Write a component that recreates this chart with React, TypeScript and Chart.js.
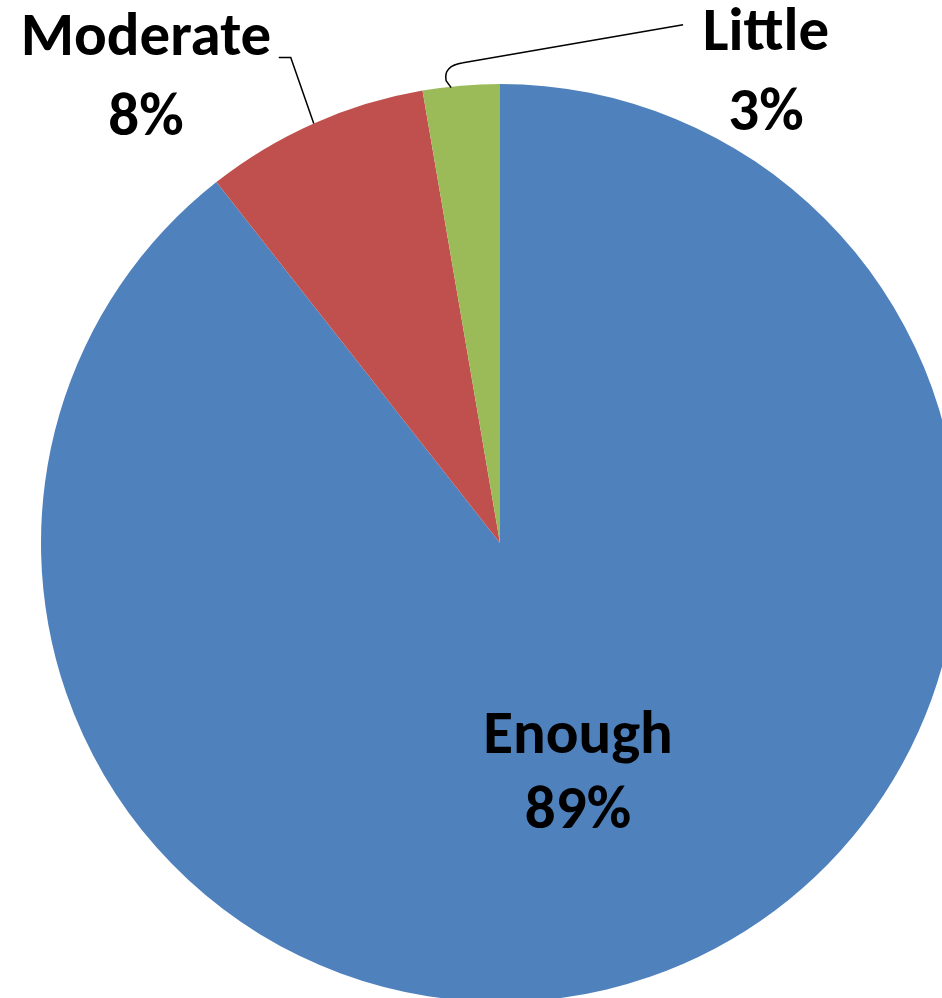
import React, { useEffect, useRef } from "react";
import { Chart, registerables } from "chart.js";

Chart.register(...registerables);

const categories = ["Enough", "Moderate", "Little"];
const values = [89.4, 7.9, 2.7];
const colors = ["#4F81BD", "#C0504D", "#9BBB59"];

// label placement (offset of first baseline from pie centre, px) and line gap
const labelOffsets = [
  { dx: 78, dy: 210, gap: 75, leader: null as null | number[][] },
  { dx: -354, dy: -488, gap: 80, leader: [[0, 0], [-23, -66], [-35, -66]] },
  { dx: 266, dy: -493, gap: 80, leader: null },
];

const FONT = "bold 61px Carlito, Calibri, Lato, sans-serif";

const labelPlugin = {
  id: "pieLabels",
  afterDraw(chart: any) {
    const ctx = chart.ctx;
    const meta = chart.getDatasetMeta(0);
    const total = values.reduce((a, b) => a + b, 0);
    ctx.save();
    meta.data.forEach((arc: any, i: number) => {
      const { x: cx, y: cy, outerRadius, startAngle, endAngle } = arc.getProps(
        ["x", "y", "outerRadius", "startAngle", "endAngle"],
        true
      );
      const mid = (startAngle + endAngle) / 2;
      const ax = cx + Math.cos(mid) * outerRadius;
      const ay = cy + Math.sin(mid) * outerRadius;
      ctx.strokeStyle = "#000";
      ctx.lineWidth = 1.5;
      if (i === 1) {
        const pts = labelOffsets[1].leader!;
        ctx.beginPath();
        ctx.moveTo(ax + pts[0][0], ay + pts[0][1]);
        for (let k = 1; k < pts.length; k++) ctx.lineTo(ax + pts[k][0], ay + pts[k][1]);
        ctx.stroke();
      }
      if (i === 2) {
        ctx.beginPath();
        ctx.moveTo(ax - 10, ay + 2);
        ctx.lineTo(ax - 15, ay - 5);
        ctx.quadraticCurveTo(ax - 18, ay - 20, ax + 2, ay - 23);
        ctx.lineTo(ax + 222, ay - 61);
        ctx.stroke();
      }
      const lo = labelOffsets[i];
      const pct = Math.round((values[i] / total) * 100) + "%";
      ctx.fillStyle = "#000";
      ctx.font = FONT;
      ctx.textAlign = "center";
      ctx.textBaseline = "alphabetic";
      ctx.fillText(categories[i], cx + lo.dx, cy + lo.dy);
      ctx.fillText(pct, cx + lo.dx, cy + lo.dy + lo.gap);
    });
    ctx.restore();
  },
};

export default function App() {
  const ref = useRef<HTMLCanvasElement>(null);
  useEffect(() => {
    if (!ref.current) return;
    const chart = new Chart(ref.current, {
      type: "pie",
      data: {
        labels: categories,
        datasets: [
          {
            data: values,
            backgroundColor: colors,
            borderWidth: 0,
          },
        ],
      },
      options: {
        responsive: false,
        animation: false,
        layout: { padding: { left: 41, right: 41, top: 84, bottom: 8 } },
        plugins: {
          legend: { display: false },
          tooltip: { enabled: false },
        },
      },
      plugins: [labelPlugin],
    });
    return () => chart.destroy();
  }, []);
  return (
    <div
      style={{
        position: "fixed",
        left: 0,
        top: 0,
        width: 942,
        height: 998,
        overflow: "hidden",
        background: "#fff",
      }}
    >
      <canvas ref={ref} width={1000} height={1010} style={{ width: 1000, height: 1010, display: "block" }} />
    </div>
  );
}
